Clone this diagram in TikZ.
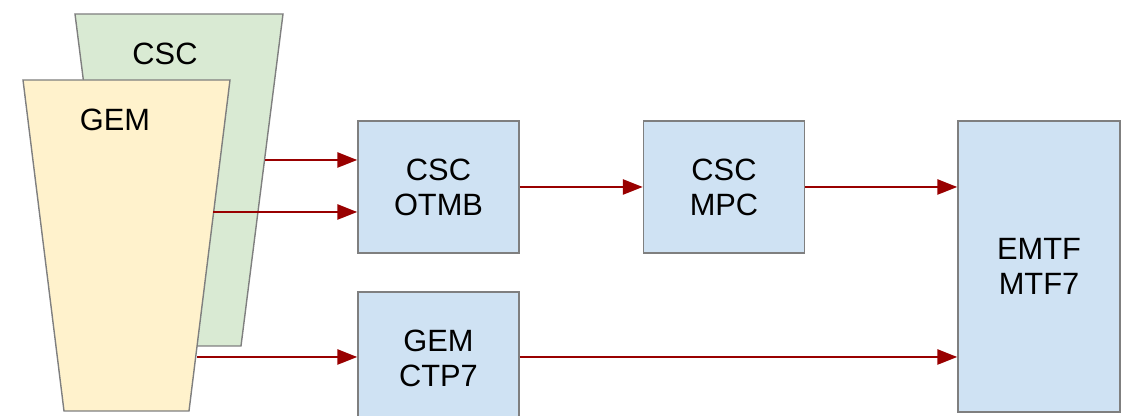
\documentclass[tikz,border=0pt]{standalone}
\usepackage{fontspec}
\setsansfont{Liberation Sans}
\usetikzlibrary{arrows.meta}
\definecolor{cscgreen}{HTML}{D9EAD3}
\definecolor{gemyellow}{HTML}{FFF2CC}
\definecolor{boardblue}{HTML}{CFE2F3}
\definecolor{edgegray}{HTML}{7F7F7F}
\definecolor{linkred}{HTML}{990000}

\begin{document}
\begin{tikzpicture}[x=0.5pt,y=0.5pt]
    \tikzstyle{label}=[font=\sffamily\fontsize{15.4}{17.5}\selectfont,align=center,inner sep=0pt]
    \tikzstyle{board}=[label,draw=edgegray,fill=boardblue,line width=0.7pt,minimum width=80.5pt,minimum height=66pt]
    \tikzstyle{link}=[linkred,line width=1.3pt,-{Triangle[length=10pt,width=7.5pt]}]
    \useasboundingbox (0,0) rectangle (1129,416);
    % chambers
    \filldraw[draw=edgegray,fill=cscgreen,line width=0.7pt] (75,402) -- (283,402) -- (241,70) -- (117,70) -- cycle;
    \node[label] (L_CSC) at (165,362) {CSC};
    \filldraw[draw=edgegray,fill=gemyellow,line width=0.7pt] (23,336) -- (230,336) -- (189,5) -- (64,5) -- cycle;
    \node[label] (L_GEM) at (115,296) {GEM};
    \coordinate (C_out1) at (265,256);
    \coordinate (C_out2) at (213,204);
    \coordinate (G_out) at (197,59);
    % boards
    \node[board] (B_OTMB) at (438.5,229) {CSC\\OTMB};
    \node[board] (B_MPC) at (724,229) {CSC\\MPC};
    \node[board] (B_CTP7) at (438.5,58) {GEM\\CTP7};
    \node[board,minimum width=81pt,minimum height=145.5pt] (B_MTF7) at (1039,149.5) {EMTF\\MTF7};
    \draw [link] (C_out1) -- (B_OTMB.west |- C_out1);
    \draw [link] (C_out2) -- (B_OTMB.west |- C_out2);
    \draw [link] (G_out) -- (B_CTP7.west |- G_out);
    \draw [link] (B_OTMB) -- (B_MPC);
    \draw [link] (B_MPC) -- (B_MPC -| B_MTF7.west);
    \draw [link] (B_CTP7.east |- G_out) -- (B_MTF7.west |- G_out);
  \end{tikzpicture}
\end{document}
